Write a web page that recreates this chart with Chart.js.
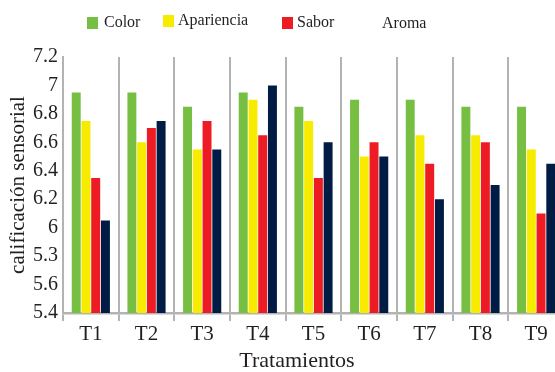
<!DOCTYPE html>
<html>
<head>
<meta charset="utf-8">
<script src="https://cdn.jsdelivr.net/npm/chart.js@4/dist/chart.umd.min.js"></script>
<style>
  html, body { margin: 0; padding: 0; background: #fff; overflow: hidden; }
  #wrap { position: relative; width: 565px; height: 372px; }
</style>
</head>
<body>
<div id="wrap"><canvas id="chart"></canvas></div>
<script>
// Treatments and sensory scores
const categories = ['T1', 'T2', 'T3', 'T4', 'T5', 'T6', 'T7', 'T8', 'T9'];
const seriesNames = ['Color', 'Apariencia', 'Sabor', 'Aroma'];
const color      = [6.95, 6.95, 6.85, 6.95, 6.85, 6.9, 6.9, 6.85, 6.85];
const apariencia = [6.75, 6.6, 6.55, 6.9, 6.75, 6.5, 6.65, 6.65, 6.55];
const sabor      = [6.35, 6.7, 6.75, 6.65, 6.35, 6.6, 6.45, 6.6, 6.1];
const aroma      = [6.05, 6.75, 6.55, 7.0, 6.6, 6.5, 6.2, 6.3, 6.45];
const yTickLabels = ['5.4', '5.6', '5.3', '6', '6.2', '6.4', '6.6', '6.8', '7', '7.2'];
const xTitle = 'Tratamientos';
const yTitle = 'calificación sensorial';

const barColors = ['#77bf43', '#f7ec00', '#ed1c24', '#001c45'];
const swatchColors = ['#77bf43', '#f7ec00', '#ed1c24', null];
const serif = '"Liberation Serif", "Times New Roman", serif';
const gridGray = '#b3b3b3';
const ink = '#231f20';

// Legend row and x-axis title, placed by hand above / below the plot
const legendSpots = [
  { box: 87,  text: 104, y: 23 },
  { box: 163, text: 178, y: 21 },
  { box: 282, text: 297, y: 23 },
  { box: 365, text: 382, y: 24 }
];
const annotations = {
  id: 'annotations',
  afterDraw(chart) {
    const ctx = chart.ctx;
    ctx.save();
    ctx.font = '16px ' + serif;
    ctx.textBaseline = 'middle';
    ctx.textAlign = 'left';
    chart.data.datasets.forEach((ds, i) => {
      const s = legendSpots[i];
      if (swatchColors[i]) {
        ctx.fillStyle = swatchColors[i];
        ctx.fillRect(s.box, s.y - 6, 11, 12);
      }
      ctx.fillStyle = ink;
      ctx.fillText(ds.label, s.text, s.y);
    });
    ctx.font = '22px ' + serif;
    ctx.textAlign = 'center';
    ctx.fillStyle = ink;
    ctx.fillText(xTitle, 297, 361);
    ctx.restore();
  }
};

const seriesValues = [color, apariencia, sabor, aroma];

new Chart(document.getElementById('chart'), {
  type: 'bar',
  data: {
    labels: categories,
    datasets: seriesNames.map((name, i) => ({
      label: name,
      data: seriesValues[i],
      backgroundColor: barColors[i],
      barPercentage: 0.92,
      categoryPercentage: 0.70
    }))
  },
  options: {
    responsive: true,
    maintainAspectRatio: false,
    animation: false,
    layout: { padding: { top: 57, right: 1, bottom: 0, left: 0 } },
    plugins: {
      legend: { display: false },
      tooltip: { enabled: false }
    },
    scales: {
      x: {
        grid: {
          display: true,
          offset: true,
          color: gridGray,
          lineWidth: 2,
          drawTicks: true,
          tickLength: 8
        },
        border: { display: true, color: gridGray, width: 2.5 },
        ticks: {
          color: ink,
          font: { family: serif, size: 21 },
          padding: 1,
          maxRotation: 0
        },
        afterFit(scale) { scale.height = 59; }
      },
      y: {
        min: 5.4,
        max: 7.2,
        grid: { display: false, drawTicks: false },
        border: { display: true, color: gridGray, width: 2 },
        ticks: {
          stepSize: 0.2,
          color: ink,
          font: { family: serif, size: 20 },
          padding: 5,
          callback: (value, index) => yTickLabels[index]
        },
        title: {
          display: true,
          text: yTitle,
          color: ink,
          font: { family: serif, size: 21 },
          padding: { top: 6, bottom: 0 }
        },
        afterFit(scale) { scale.width = 63; }
      }
    }
  },
  plugins: [annotations]
});
</script>
</body>
</html>
